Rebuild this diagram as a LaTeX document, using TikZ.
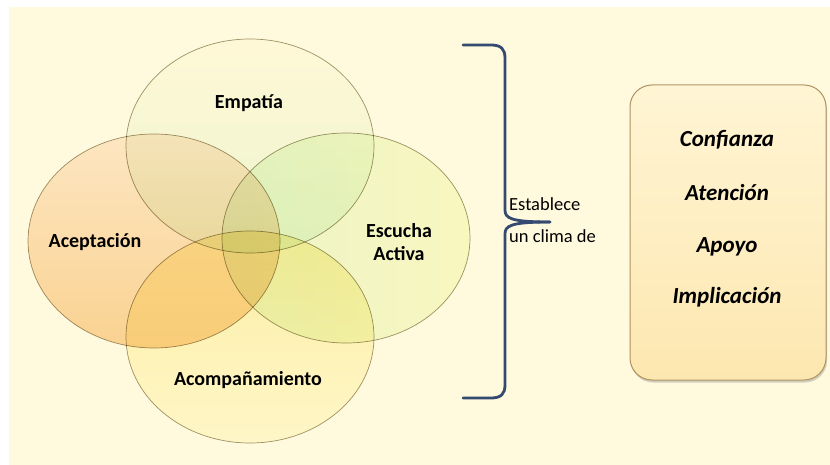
\documentclass[tikz,border=0pt]{standalone}
\usepackage{fontspec}
\setmainfont{Carlito}
\usepackage{tikz}
\usetikzlibrary{shadows}

\definecolor{fondo}{RGB}{255,249,221}
\definecolor{borde}{RGB}{160,150,120}
\definecolor{llavecolor}{RGB}{52,74,112}
\definecolor{empA}{RGB}{255,254,248}
\definecolor{empB}{RGB}{236,250,238}
\definecolor{acepA}{RGB}{253,236,224}
\definecolor{acepB}{RGB}{250,216,168}
\definecolor{escA}{RGB}{236,250,232}
\definecolor{escB}{RGB}{248,253,220}
\definecolor{acoA}{RGB}{253,244,190}
\definecolor{acoB}{RGB}{254,252,230}
\definecolor{cajaA}{RGB}{255,245,212}
\definecolor{cajaB}{RGB}{253,231,176}
\definecolor{cajaborde}{RGB}{176,146,96}

\tikzset{
  conjunto/.style={draw=borde, line width=0.7pt, blend mode=multiply},
  etiqueta/.style={font=\fontsize{20}{23}\selectfont\bfseries, align=center, inner sep=0pt},
  frase/.style={font=\fontsize{18.5}{20}\selectfont, inner sep=0pt, anchor=west},
  valor/.style={font=\fontsize{23}{26}\selectfont\bfseries\itshape, inner sep=0pt},
  caja/.style={draw=cajaborde, line width=1pt, rounded corners=22pt,
    top color=cajaA, bottom color=cajaB,
    drop shadow={opacity=0.35, shadow xshift=1pt, shadow yshift=-2.5pt}},
  llave/.style={draw=llavecolor, line width=2.8pt, line cap=round, line join=round}
}

\begin{document}
\begin{tikzpicture}[x=1pt, y={(0,-1pt)}]
\useasboundingbox (0,0) rectangle (830,465);
\fill[fondo] (-5,-5) rectangle (840,475);
\fill[white] (-5,-5) rectangle (9,475);
\fill[white] (-5,-5) rectangle (840,7);

\path[conjunto, top color=empA, bottom color=empB] (250,146) ellipse [x radius=124, y radius=107];
\path[conjunto, top color=acepA, bottom color=acepB] (154,241) ellipse [x radius=126, y radius=107];
\path[conjunto, left color=escA, right color=escB] (346,238) ellipse [x radius=124, y radius=105];
\path[conjunto, top color=acoA, bottom color=acoB] (250,337) ellipse [x radius=124, y radius=106];

\node[etiqueta] (empatia) at (249,103) {Empatía};
\node[etiqueta] (aceptacion) at (95,242) {Aceptación};
\node[etiqueta] (escucha) at (399,242) {Escucha\\Activa};
\node[etiqueta] (acompanamiento) at (248,380) {Acompañamiento};

\coordinate (llavesup) at (463,45);
\coordinate (llavepico) at (550,222);
\coordinate (llaveinf) at (463,398);
\draw[llave] (llavesup) -- (491,45) .. controls (501,45) and (505,49) .. (505,58)
  -- (505,210) .. controls (505,218) and (510,222) .. (llavepico);
\draw[llave] (llavepico) .. controls (510,222) and (505,226) .. (505,234)
  -- (505,385) .. controls (505,394) and (501,398) .. (491,398) -- (llaveinf);

\node[frase] (establece) at (509,204) {Establece};
\node[frase] (clima) at (509,236) {un clima de};

\node[caja, minimum width=196pt, minimum height=295pt] (recuadro) at (728,232.5) {};
\node[valor] (confianza) at (727,140) {Confianza};
\node[valor] (atencion) at (727,193) {Atención};
\node[valor] (apoyo) at (727,247) {Apoyo};
\node[valor] (implicacion) at (727,297) {Implicación};
\end{tikzpicture}
\end{document}
